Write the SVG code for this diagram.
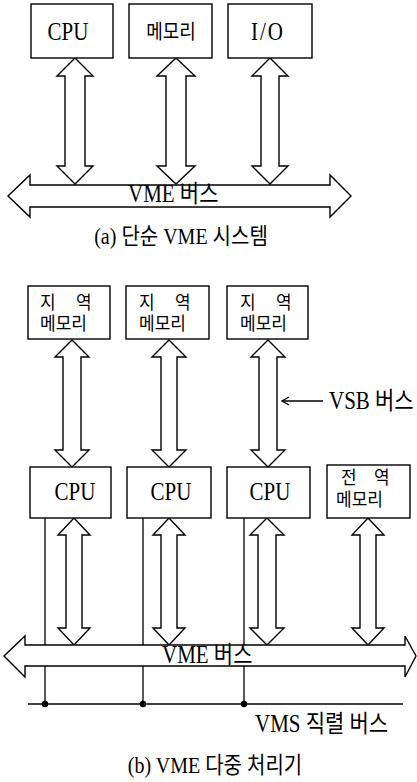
<svg xmlns="http://www.w3.org/2000/svg" width="417" height="782" viewBox="0 0 417 782">
<style>
.box{fill:#fff;stroke:#000;stroke-width:1.4}
.arr{fill:#fff;stroke:#000;stroke-width:1.4;stroke-linejoin:miter}
.ln{fill:none;stroke:#000;stroke-width:1.3}
text{font-family:"Liberation Serif","Noto Sans CJK KR",serif;fill:#000}
.t20{font-size:21px}
.k{font-size:17px}
</style>
<rect width="417" height="782" fill="#fff"/>

<!-- (a) connectors -->
<g id="connectors-a">
<path class="arr" d="M75,58 L93,76 L85,76 L85,166 L93,166 L75,184 L57,166 L65,166 L65,76 L57,76 Z"/>
<path class="arr" d="M176,58 L195,76 L186,76 L186,166 L195,166 L176,184 L157,166 L166,166 L166,76 L157,76 Z"/>
<path class="arr" d="M270,58 L288,76 L279,76 L279,166 L288,166 L270,184 L252,166 L261,166 L261,76 L252,76 Z"/>
</g>
<g id="vme-bus-a">
<path class="arr" d="M8,196 L30,175 L30,185 L330,185 L330,175 L351,196 L330,217 L330,207 L30,207 L30,217 Z"/>
<text class="t20" transform="translate(128 202) scale(1 1.15)">VME 버스</text>
</g>

<g id="cpu-a"><rect class="box" x="31" y="4" width="82" height="54"/><text class="t20" transform="translate(68 40) scale(1 1.15)" text-anchor="middle">CPU</text></g>
<g id="mem-a"><rect class="box" x="129" y="4" width="83" height="54"/><text transform="translate(171 39) scale(1 1.15)" text-anchor="middle" style="font-size:18px">메모리</text></g>
<g id="io-a"><rect class="box" x="228" y="4" width="84" height="54"/><text class="t20" transform="translate(268 40) scale(1 1.15)" text-anchor="middle" letter-spacing="2">I/O</text></g>

<text id="caption-a" class="t20" transform="translate(181 244) scale(1 1.15)" text-anchor="middle" style="font-size:20px">(a) 단순 VME 시스템</text>

<!-- (b) connectors -->
<g id="connectors-b">
<line class="ln" x1="45" y1="518" x2="45" y2="704"/>
<line class="ln" x1="143" y1="518" x2="143" y2="704"/>
<line class="ln" x1="244" y1="518" x2="244" y2="704"/>
<line class="ln" x1="28" y1="704" x2="403" y2="704"/>
<circle cx="45" cy="704" r="3.2" fill="#000"/>
<circle cx="143" cy="704" r="3.2" fill="#000"/>
<circle cx="244" cy="704" r="3.2" fill="#000"/>

<path class="arr" d="M72,340 L89,357 L81,357 L81,450 L89,450 L72,467 L55,450 L63,450 L63,357 L55,357 Z"/>
<path class="arr" d="M169,340 L186,357 L177,357 L177,450 L186,450 L169,467 L152,450 L161,450 L161,357 L152,357 Z"/>
<path class="arr" d="M268,340 L285,357 L277,357 L277,450 L285,450 L268,467 L251,450 L259,450 L259,357 L251,357 Z"/>

<path class="arr" d="M74,518 L90,535 L82,535 L82,628 L90,628 L74,645 L58,628 L66,628 L66,535 L58,535 Z"/>
<path class="arr" d="M169,518 L185,535 L177,535 L177,628 L185,628 L169,645 L153,628 L161,628 L161,535 L153,535 Z"/>
<path class="arr" d="M267,518 L284,535 L276,535 L276,628 L284,628 L267,645 L250,628 L258,628 L258,535 L250,535 Z"/>
<path class="arr" d="M368,518 L384,535 L376,535 L376,628 L384,628 L368,645 L352,628 L360,628 L360,535 L352,535 Z"/>

<line class="ln" x1="282" y1="401" x2="323" y2="401"/>
<path class="ln" d="M289,397 L282,401 L289,405"/>
</g>
<text class="t20" transform="translate(329 409) scale(1 1.15)">VSB 버스</text>

<g id="vme-bus-b">
<path class="arr" d="M4,656 L25,636 L25,645 L405,645 L405,636 L416,656 L405,677 L405,666 L25,666 L25,677 Z"/>
<text class="t20" transform="translate(162 663) scale(1 1.15)">VME 버스</text>
</g>
<text class="t20" transform="translate(255 732) scale(1 1.15)">VMS 직렬 버스</text>

<g id="lmem1"><rect class="box" x="28" y="286" width="82" height="53"/><text class="k" transform="translate(40 309) scale(1 1.08)">지</text><text class="k" transform="translate(76 309) scale(1 1.08)">역</text><text class="k" transform="translate(40 330) scale(1 1.08)">메모리</text></g>
<g id="lmem2"><rect class="box" x="126" y="286" width="83" height="53"/><text class="k" transform="translate(139 309) scale(1 1.08)">지</text><text class="k" transform="translate(175 309) scale(1 1.08)">역</text><text class="k" transform="translate(139 330) scale(1 1.08)">메모리</text></g>
<g id="lmem3"><rect class="box" x="227" y="286" width="81" height="53"/><text class="k" transform="translate(240 309) scale(1 1.08)">지</text><text class="k" transform="translate(276 309) scale(1 1.08)">역</text><text class="k" transform="translate(240 330) scale(1 1.08)">메모리</text></g>

<g id="cpu1"><rect class="box" x="30" y="467" width="81" height="51"/><text class="t20" transform="translate(75 500) scale(1 1.15)" text-anchor="middle">CPU</text></g>
<g id="cpu2"><rect class="box" x="127" y="467" width="84" height="51"/><text class="t20" transform="translate(171 500) scale(1 1.15)" text-anchor="middle">CPU</text></g>
<g id="cpu3"><rect class="box" x="227" y="467" width="83" height="51"/><text class="t20" transform="translate(270 500) scale(1 1.15)" text-anchor="middle">CPU</text></g>
<g id="gmem"><rect class="box" x="327" y="465" width="83" height="53"/><text class="k" transform="translate(341 484) scale(1 1.08)">전</text><text class="k" transform="translate(374 484) scale(1 1.08)">역</text><text class="k" transform="translate(336 506) scale(1 1.08)">메모리</text></g>

<text id="caption-b" class="t20" transform="translate(215 773) scale(1 1.15)" text-anchor="middle" style="font-size:20px">(b) VME 다중 처리기</text>
</svg>
